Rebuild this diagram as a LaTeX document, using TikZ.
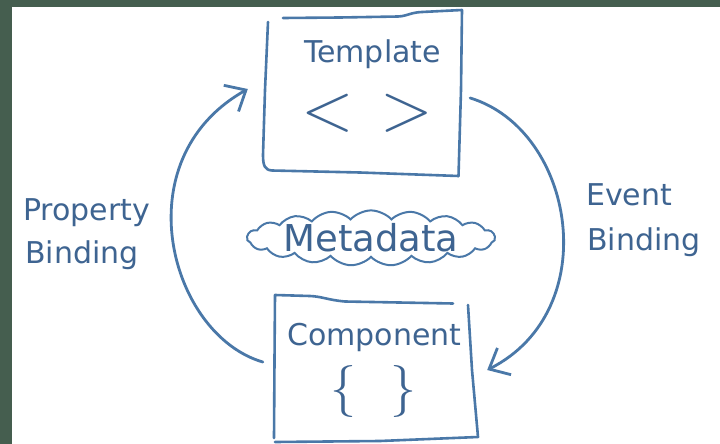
\documentclass[tikz,border=0pt]{standalone}
\usepackage{fontspec}
\setmainfont{DejaVu Sans}
\newfontfamily\symfont{Latin Modern Roman}
\usetikzlibrary{arrows.meta,shapes.symbols,calc}
\definecolor{ink}{RGB}{74,120,168}
\definecolor{txt}{RGB}{62,100,145}
\definecolor{frame}{RGB}{69,94,79}
\begin{document}
\begin{tikzpicture}[x=1pt,y=-1pt,
  sketch/.style={draw=ink, line width=2.6pt, line cap=round, line join=round},
  flow/.style={draw=ink, line width=2.8pt, line cap=round, -{Straight Barb[length=17pt,width=30pt]}},
  lbl/.style={text=txt, font=\fontsize{30}{36}\selectfont, inner sep=0pt},
  area/.style={inner sep=0pt, draw=none},
  angles/.style={text=txt, inner sep=0pt, font=\symfont\fontsize{69}{80}\selectfont},
  braces/.style={text=txt, inner sep=0pt, font=\symfont\fontsize{52}{60}\selectfont},
  metacloud/.style={cloud, draw=ink, line width=2pt, cloud puffs=19, cloud puff arc=95, aspect=5.2,
    minimum width=248pt, minimum height=46pt, inner sep=0pt, text=txt,
    font=\fontsize{37}{44}\selectfont}
]
\useasboundingbox (0,0) rectangle (720,444);
\fill[white] (0,0) rectangle (720,444);
\fill[frame] (0,0) rectangle (720,7);
\fill[frame] (0,0) rectangle (12,444);

% box areas
\node[area, minimum width=199pt, minimum height=165pt] (tpl) at (362.5,92.5) {};
\node[area, minimum width=205pt, minimum height=147pt] (cmp) at (375.5,368.5) {};

% sketchy outlines
\draw[sketch] (283,18) -- (340,17.5) -- (398,16.5) .. controls (408,16) and (410,12.5) .. (422,12) -- (462,10) -- (461,90) -- (458.5,176);
\draw[sketch] (268,22) -- (265,90) -- (263,155) .. controls (263,166) and (265,170) .. (272,170.5) -- (360,172.5) -- (458.5,176);
\draw[sketch] (274,438) -- (274.5,360) -- (275,295) -- (310,296) .. controls (322,296.5) and (328,300) .. (345,301.5) -- (453,303.5);
\draw[sketch] (275,442) -- (380,441) -- (478,437) -- (472,370) -- (468,305);

% texts
\node[lbl, anchor=base] (tpltext) at (372.5,63) {Template};
\node[angles, anchor=base] (tplsym) at (367.5,130) {<\hspace{27pt}>};
\node[lbl, anchor=base] (cmptext) at (374.5,345) {Component};
\node[braces, anchor=base] (cmpsym) at (373.5,404) {\{\hspace{35pt}\}};

\node[metacloud] (meta) at (371,238) {\makebox[0pt]{Metadata}};

\node[lbl, anchor=base west] (p1) at (23,220) {Property};
\node[lbl, anchor=base west] (p2) at (25,263) {Binding};
\node[lbl, anchor=base west] (e1) at (586,205) {Event};
\node[lbl, anchor=base west] (e2) at (587,250) {Binding};

% connectors
\draw[flow] ($(cmp.west)+(-10,-6.5)$) .. controls (170,335) and (122,160) .. ($(tpl.west)+(-15,-3.5)$);
\draw[flow] ($(tpl.east)+(8,5.5)$) .. controls (575,130) and (605,310) .. ($(cmp.east)+(9,1.5)$);
\end{tikzpicture}
\end{document}
